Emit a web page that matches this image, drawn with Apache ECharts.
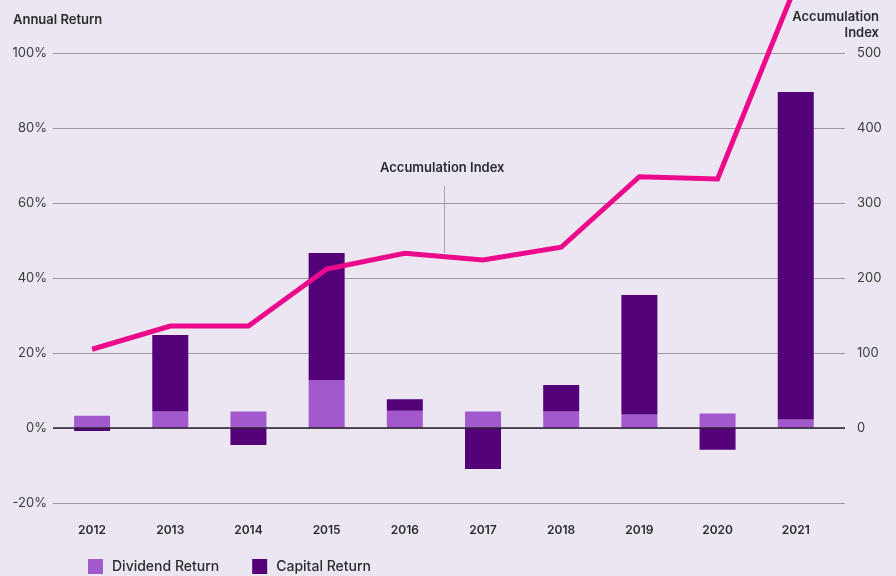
<!DOCTYPE html>
<html>
<head>
<meta charset="utf-8">
<script src="https://cdn.jsdelivr.net/npm/echarts@6/dist/echarts.min.js"></script>
<style>
  html, body { margin: 0; padding: 0; background: #ece6f2; }
  #chart { width: 896px; height: 576px; }
</style>
</head>
<body>
<div id="chart"></div>
<script>
// Calendar years on the horizontal axis
const years = ['2012', '2013', '2014', '2015', '2016', '2017', '2018', '2019', '2020', '2021'];
// Annual return split into its two parts (%)
const dividendReturn = [3.3, 4.4, 4.4, 12.8, 4.6, 4.4, 4.4, 3.6, 3.9, 2.3];
const capitalReturn = [-0.8, 20.4, -4.5, 33.9, 3.1, -10.9, 7.1, 31.9, -5.8, 87.3];
// Accumulation index level at each year end
const accumIndex = [105, 136, 136, 212, 233, 224, 241, 335, 332, 590];
// Axis ticks
const leftTicks = { min: -20, max: 100, step: 20 };
const rightTicks = { min: -100, max: 500, step: 100 };

const FONT = 'Inter, "Noto Sans", sans-serif';
const TEXT = '#2b2b2b';

const chart = echarts.init(document.getElementById('chart'), null, { renderer: 'canvas' });

// Rows are [value, yearIndex]; the value comes first so it is the stacked dimension.
const rows = arr => arr.map((v, i) => [v, i]);
const enc = { x: 1, y: 0 };

chart.setOption({
  backgroundColor: '#ece6f2',
  animation: false,
  textStyle: { fontFamily: FONT },
  grid: { left: 53, right: 51, top: 53, bottom: 73 },
  legend: {
    left: 83, top: 554,
    icon: 'rect', itemWidth: 15, itemHeight: 15, itemGap: 33,
    data: ['Dividend Return', 'Capital Return'],
    textStyle: { fontFamily: FONT, fontSize: 14, fontWeight: 500, color: TEXT, padding: [0, 0, 0, 4] }
  },
  xAxis: {
    type: 'value',
    min: -0.5, max: 9.63,
    axisLine: { show: false },
    axisTick: { show: false },
    splitLine: { show: false },
    axisLabel: {
      customValues: years.map((_, i) => i),
      formatter: v => years[Math.round(v)],
      margin: 21,
      fontSize: 12, fontWeight: 600, color: TEXT, fontFamily: FONT
    }
  },
  yAxis: [
    {
      type: 'value',
      min: leftTicks.min, max: leftTicks.max, interval: leftTicks.step,
      axisLine: { show: false }, axisTick: { show: false },
      axisLabel: { formatter: '{value}%', margin: 6, fontSize: 13, color: '#3a3a3a', fontFamily: FONT },
      splitLine: { lineStyle: { color: '#9b98a0', width: 1 } }
    },
    {
      type: 'value',
      position: 'right',
      min: rightTicks.min, max: rightTicks.max, interval: rightTicks.step,
      axisLine: { show: false }, axisTick: { show: false },
      axisLabel: { formatter: v => (v < 0 ? '' : String(v)), margin: 12, fontSize: 13, color: '#3a3a3a', fontFamily: FONT },
      splitLine: { show: false }
    }
  ],
  series: [
    {
      name: 'Dividend Return',
      type: 'bar',
      stack: 'ret',
      barWidth: 36,
      encode: enc,
      itemStyle: { color: '#a259cd' },
      data: rows(dividendReturn),
      markLine: {
        silent: true, symbol: 'none', label: { show: false },
        lineStyle: { color: '#2a2330', width: 1.5, type: 'solid' },
        data: [{ yAxis: 0 }]
      }
    },
    {
      name: 'Capital Return',
      type: 'bar',
      stack: 'ret',
      barWidth: 36,
      encode: enc,
      itemStyle: { color: '#540078' },
      data: rows(capitalReturn)
    },
    {
      name: 'Accumulation Index',
      type: 'line',
      yAxisIndex: 1,
      clip: false,
      symbol: 'none',
      encode: enc,
      lineStyle: { color: '#ec0a8c', width: 5, join: 'miter' },
      data: rows(accumIndex),
      z: 5
    }
  ],
  graphic: [
    {
      type: 'text', x: 13, y: 14,
      style: { text: 'Annual Return', font: `600 13px ${FONT}`, fill: TEXT }
    },
    {
      type: 'text', x: 879, y: 9,
      style: { text: 'Accumulation\nIndex', font: `600 13px ${FONT}`, fill: TEXT, align: 'right', lineHeight: 16 }
    },
    {
      type: 'text', x: 380, y: 162,
      style: { text: 'Accumulation Index', font: `600 13px ${FONT}`, fill: TEXT }
    },
    {
      type: 'line', silent: true,
      shape: { x1: 444.5, y1: 186, x2: 444.5, y2: 253 },
      style: { stroke: '#a9a6ae', lineWidth: 1 }
    }
  ]
});
</script>
</body>
</html>
